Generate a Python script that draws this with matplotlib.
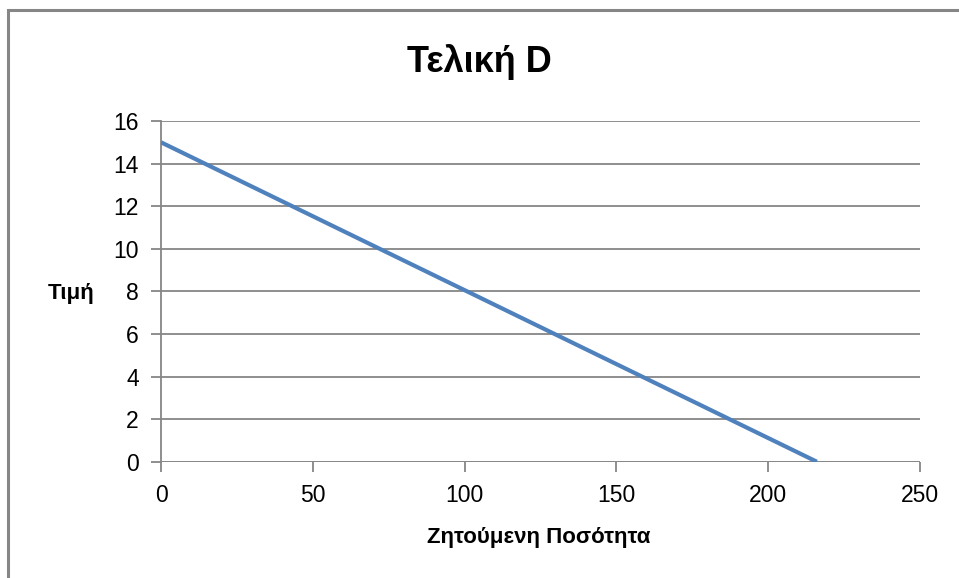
import matplotlib.pyplot as plt
from matplotlib.patches import Rectangle

# demand line
quantity = [0, 216]
price = [15, 0]

x_ticks = [0, 50, 100, 150, 200, 250]
y_ticks = [0, 2, 4, 6, 8, 10, 12, 14, 16]

title = "Τελική D"
x_label = "Ζητούμενη Ποσότητα"
y_label = "Τιμή"

grid_col = "#868686"
line_col = "#4F81BD"

plt.rcParams['font.family'] = ['Liberation Sans', 'DejaVu Sans']

fig = plt.figure(figsize=(9.59, 5.78), dpi=100)
ax = fig.add_axes([161/959, 1 - 461.7/578, (920 - 161)/959, (461.7 - 121)/578])

# outer chart frame, runs off the right and bottom of the picture
fig.patches.append(Rectangle((8/959, -0.2), 1.2, 1.2 - 10/578, transform=fig.transFigure,
                             fill=False, edgecolor=grid_col, linewidth=2.2, zorder=0))

ax.plot(quantity, price, color=line_col, linewidth=3.0, solid_capstyle='butt', zorder=3)

ax.set_xlim(0, 250)
ax.set_ylim(0, 16)
ax.set_xticks(x_ticks)
ax.set_yticks(y_ticks)
ax.set_xticklabels([str(t) for t in x_ticks])
ax.set_yticklabels([str(t) for t in y_ticks])

ax.grid(axis='y', color=grid_col, linewidth=1.3, zorder=1)
ax.set_axisbelow(True)
for s in ['top', 'right', 'bottom']:
    ax.spines[s].set_visible(False)
ax.spines['left'].set_color(grid_col)
ax.spines['left'].set_linewidth(1.3)
ax.axhline(0, color=grid_col, linewidth=1.3, zorder=1)

ax.tick_params(axis='both', direction='out', length=7, width=1.3, color=grid_col,
               labelsize=16.5, pad=9)

fig.text(479/959, 1 - 62/578, title, fontsize=26, fontweight='bold', ha='center', va='center')
fig.text(539/959, 1 - 538/578, x_label, fontsize=16, fontweight='bold', ha='center', va='center')
fig.text(71/959, 1 - 294/578, y_label, fontsize=16, fontweight='bold', ha='center', va='center')

fig.savefig("out.png", dpi=100)
